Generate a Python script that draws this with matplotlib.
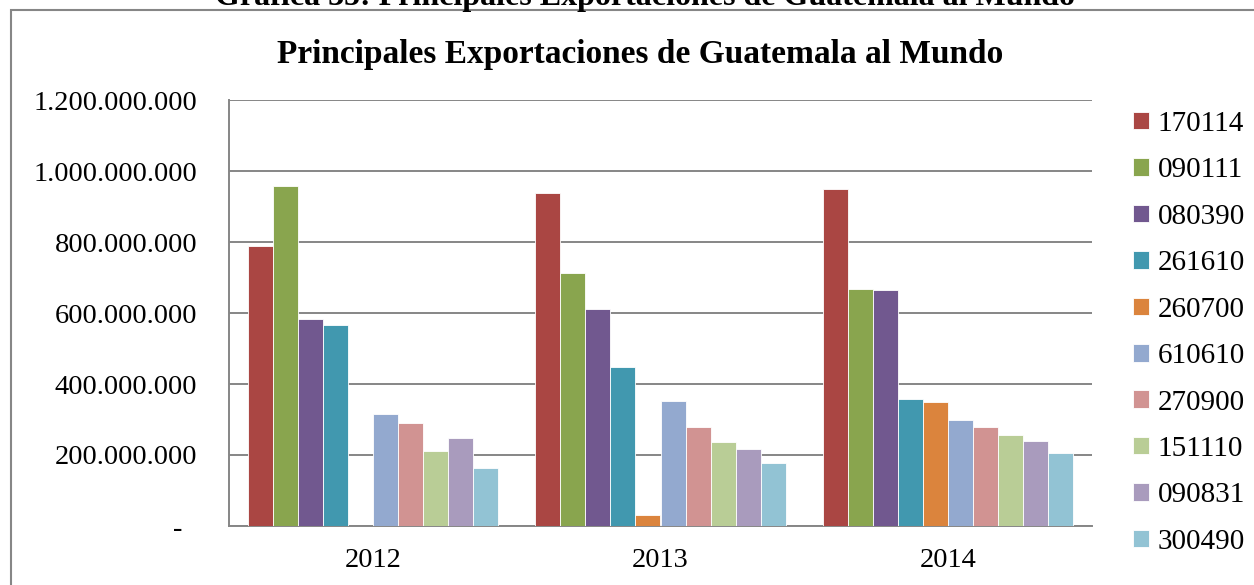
import numpy as np
import matplotlib.pyplot as plt
from matplotlib.patches import Rectangle
from matplotlib.ticker import FuncFormatter

years = ["2012", "2013", "2014"]
products = ["170114", "090111", "080390", "261610", "260700",
            "610610", "270900", "151110", "090831", "300490"]
colors = ["#AA4643", "#89A54E", "#71588F", "#4198AF", "#DB843D",
          "#93A9CF", "#D19392", "#B9CD96", "#A99BBD", "#92C3D4"]

# exportaciones en US$ por producto (2012, 2013, 2014)
v170114 = [790e6, 939e6, 948e6]
v090111 = [958e6, 714e6, 667e6]
v080390 = [583e6, 611e6, 664e6]
v261610 = [566e6, 447e6, 357e6]
v260700 = [0, 31e6, 349e6]
v610610 = [315e6, 352e6, 300e6]
v270900 = [291e6, 278e6, 278e6]
v151110 = [212e6, 238e6, 256e6]
v090831 = [249e6, 217e6, 239e6]
v300490 = [164e6, 177e6, 205e6]
series = [v170114, v090111, v080390, v261610, v260700,
          v610610, v270900, v151110, v090831, v300490]

serif = "Liberation Serif"
fig = plt.figure(figsize=(12.54, 5.85), dpi=100)
ax = fig.add_axes([229 / 1254, 1 - 526 / 585, (1092 - 229) / 1254, (526 - 100) / 585])

x = np.arange(len(years))
w = 1 / 11.5
for i, (name, vals) in enumerate(zip(products, series)):
    ax.bar(x - 5 * w + (i + 0.5) * w, vals, width=w, color=colors[i],
           edgecolor="white", linewidth=0.6, label=name, zorder=3)

ax.set_xlim(-0.5, 2.5)
ax.set_ylim(0, 1.2e9)
ax.set_yticks(np.arange(0, 1.2e9 + 1, 2e8))


def fmt(v, pos):
    if v == 0:
        return "-  "
    return f"{int(round(v)):,}".replace(",", ".")


ax.yaxis.set_major_formatter(FuncFormatter(fmt))
ax.set_xticks(x)
ax.set_xticklabels(years)
ax.grid(axis="y", color="#868686", linewidth=1.4, zorder=0)
for s in ["top", "right"]:
    ax.spines[s].set_visible(False)
for s in ["left", "bottom"]:
    ax.spines[s].set_color("#868686")
    ax.spines[s].set_linewidth(1.4)
ax.tick_params(axis="y", length=0, pad=23, labelsize=20.5)
ax.tick_params(axis="x", length=0, pad=16, labelsize=20.5)
for lab in ax.get_xticklabels() + ax.get_yticklabels():
    lab.set_fontfamily(serif)

ax.legend(loc="upper left", bbox_to_anchor=(1133 / 1254, 1 - 111 / 585),
          bbox_transform=fig.transFigure, frameon=False, borderpad=0,
          borderaxespad=0, handlelength=0.55, handleheight=0.55,
          handletextpad=0.3, labelspacing=0.70,
          prop={"family": serif, "size": 21})

fig.text(640 / 1254, 1 - 63 / 585, "Principales Exportaciones de Guatemala al Mundo",
         ha="center", va="baseline", fontsize=24, fontweight="bold", family=serif)
fig.text(645 / 1254, 1 - 5 / 585,
         "Gráfica 35: Principales Exportaciones de Guatemala al Mundo",
         ha="center", va="baseline", fontsize=23, fontweight="bold", family=serif)

fig.add_artist(Rectangle((11 / 1254, -0.1), 2, 1.1 - 10 / 585, transform=fig.transFigure,
                         fill=False, edgecolor="#868686", linewidth=1.5))

fig.savefig("out.png", dpi=100)
